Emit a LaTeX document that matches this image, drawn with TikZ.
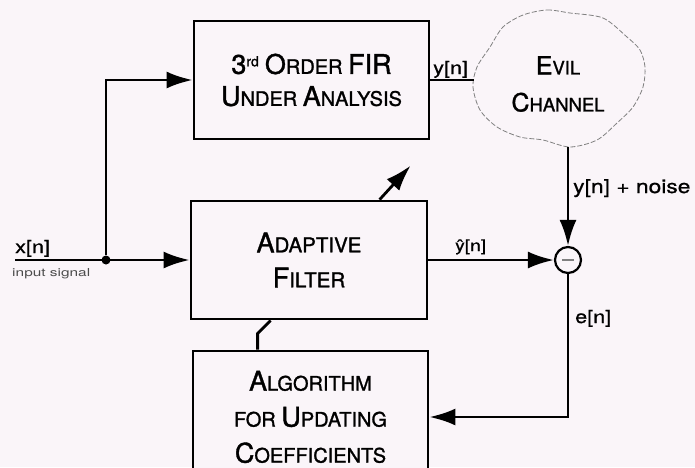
\documentclass[tikz,border=0pt]{standalone}
\usepackage{fontspec}
\setmainfont{TeX Gyre Heros}
\newfontfamily\boxfont[FakeBold=1.3]{TeX Gyre Heros}
\newfontfamily\lblfont[FakeStretch=1.2,FakeBold=0.8]{TeX Gyre Heros}
\newfontfamily\tinyfont[FakeStretch=1.4]{TeX Gyre Heros}
\usetikzlibrary{arrows.meta}
\definecolor{paper}{RGB}{250,245,249}
\newcommand{\bigc}[1]{{\fontsize{27}{27}\selectfont #1}}
\tikzset{
  box/.style={draw, line width=2.8pt, fill=paper, minimum width=235pt,
    minimum height=118pt, align=center, inner sep=0pt},
  wire/.style={line width=2.8pt},
  sig/.style={-{Latex[length=26pt,width=17pt]}},
  lbl/.style={inner sep=0pt, font=\lblfont\fontsize{18}{18}\selectfont},
  cloudline/.style={gray, line width=0.8pt, dash pattern=on 5pt off 2pt}
}

\begin{document}
\begin{tikzpicture}[x=1pt,y=-1pt]
\fill[paper] (0,0) rectangle (695,467);
\useasboundingbox (0,0) rectangle (695,467);

% blocks
\node[box, font=\boxfont\fontsize{20}{32}\selectfont] (fir) at (311.5,80)
  {\bigc{3}\textsuperscript{rd} \bigc{O}RDER \bigc{FIR}\\\bigc{U}NDER \bigc{A}NALYSIS};
\node[box, minimum width=236pt, font=\boxfont\fontsize{20.5}{35}\selectfont] (filt) at (309,260)
  {\bigc{A}DAPTIVE\\\bigc{F}ILTER};
\node[box, minimum height=132pt, font=\boxfont\fontsize{20}{36}\selectfont] (alg) at (310.5,417)
  {\bigc{A}LGORITHM\\FOR \bigc{U}PDATING\\\bigc{C}OEFFICIENTS};

% channel
\draw[cloudline] plot[smooth cycle] coordinates {(523,15) (547,10) (570,13) (603,18)
  (627,37) (640,50) (645,67) (643,87) (633,107) (617,123) (597,140) (570,147)
  (543,140) (520,137) (497,127) (480,110) (473,87) (477,67) (490,47) (503,27)};
\node[align=center, font=\boxfont\fontsize{18.5}{37}\selectfont] (chan) at (558,84)
  {{\fontsize{25}{25}\selectfont E}VIL\\{\fontsize{25}{25}\selectfont C}HANNEL};
\coordinate (cloudL) at (474,80);
\coordinate (cloudB) at (568,147);

% summing point
\node[draw, circle, line width=2.2pt, fill=paper, minimum size=26pt, inner sep=0pt] (sum) at (568,260) {};
\draw[gray, line width=1.2pt] ([xshift=-6pt]sum.center) -- ([xshift=6pt]sum.center);

% input
\coordinate (xin) at (15,260);
\node[circle, fill=black, inner sep=0pt, minimum size=9pt] (jn) at (106,260) {};

% connections
\draw[wire,sig] (xin) -- (filt.west);
\draw[wire,sig] (jn) |- (fir.west);
\draw[wire] (fir.east) -- (cloudL);
\draw[wire,sig] (cloudB) -- (sum.north);
\draw[wire,sig] (filt.east) -- (sum.west);
\draw[wire,sig] (sum.south) |- (alg.east);
\draw[wire] ([xshift=66pt]alg.north west) -- ++(0,-16) -- ([xshift=81pt]filt.south west);
\draw[wire,sig] ([xshift=190pt]filt.north west) -- ++(31,-34);

% labels
\node[lbl, anchor=base west] (lx) at (15,253) {x[n]};
\node[inner sep=0pt, anchor=base west, text=black!70, font=\tinyfont\fontsize{11}{11}\selectfont] (lin) at (12,276) {input signal};
\node[lbl, anchor=base west] (ly) at (433,74) {y[n]};
\node[lbl, anchor=base west, font=\lblfont\fontsize{19}{19}\selectfont] (lnoise) at (573,193) {y[n] + noise};
\node[lbl, anchor=base west, font=\lblfont\fontsize{16}{16}\selectfont] (lyhat) at (455,251) {ŷ[n]};
\node[lbl, anchor=base west] (le) at (575,323) {e[n]};
\end{tikzpicture}
\end{document}
